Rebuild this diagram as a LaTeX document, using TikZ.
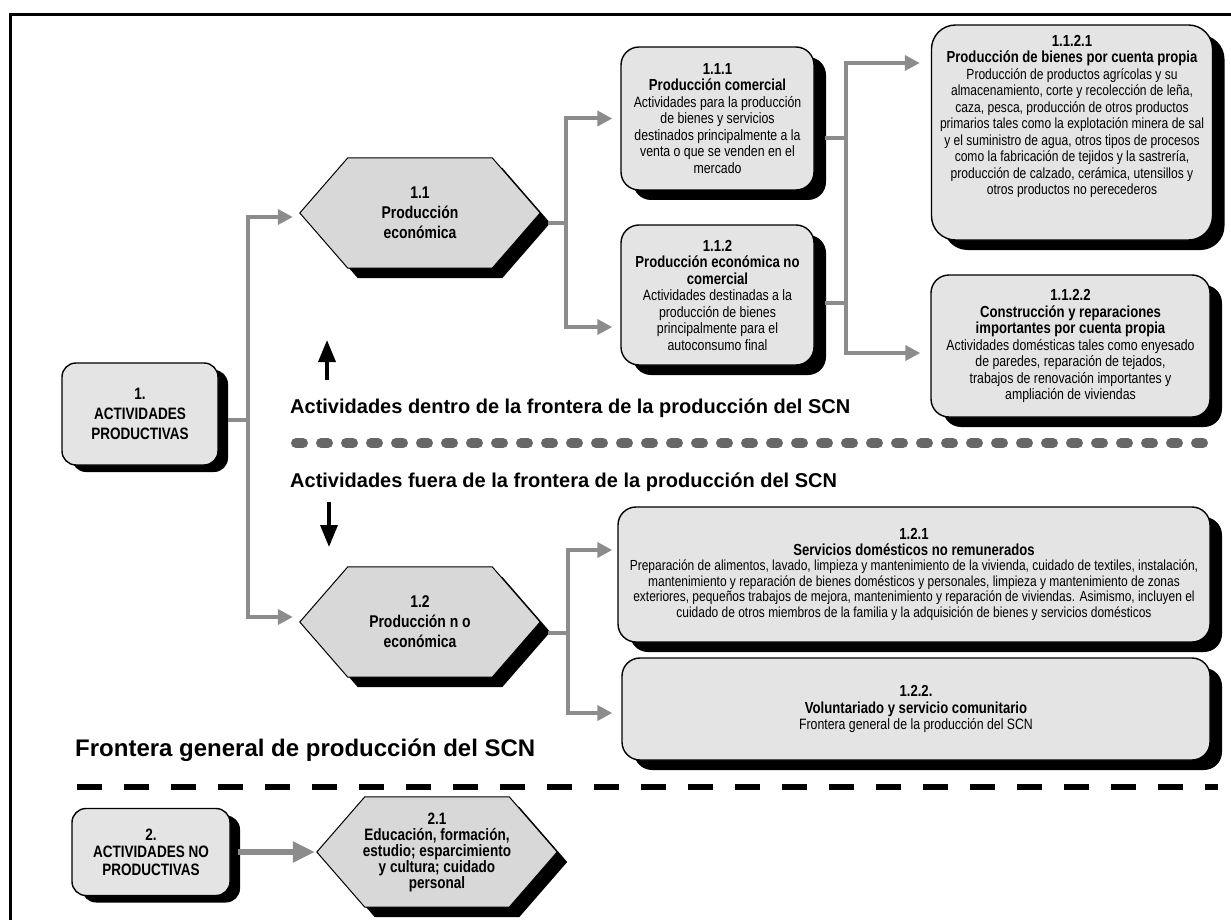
\documentclass[tikz,border=0pt]{standalone}
\usepackage{fontspec}
\setmainfont{Liberation Sans}
\newfontfamily\narrowfont{Liberation Sans}[FakeStretch=0.82]
\usetikzlibrary{arrows.meta,shadows,backgrounds}

\definecolor{boxgray}{HTML}{E4E4E4}
\definecolor{hexgray}{HTML}{D8D8D8}
\definecolor{linkgray}{HTML}{8C8C8C}
\definecolor{dotgray}{HTML}{676767}

\newcommand{\hd}[1]{{\bfseries\fontsize{16}{17}\selectfont #1}}
% outline of a hexagon round node #1, shifted by (#2,#3)
\newcommand{\hexpath}[3]{([shift={(#2,#3)}]#1.west) -- ([shift={(48+#2,#3)}]#1.north west) -- ([shift={(-48+#2,#3)}]#1.north east) -- ([shift={(#2,#3)}]#1.east) -- ([shift={(-48+#2,#3)}]#1.south east) -- ([shift={(48+#2,#3)}]#1.south west) -- cycle}

\begin{document}
\begin{tikzpicture}[x=1pt,y=-1pt]
        \tikzstyle{boxbase}=[draw, line width=1.4pt, fill=boxgray, rounded corners=18pt, align=center, inner sep=0pt]
        \tikzstyle{box}=[boxbase, drop shadow={shadow xshift=12pt, shadow yshift=-10pt, opacity=1, fill=black},
            font=\narrowfont\fontsize{15}{16.5}\selectfont]
        \tikzstyle{actbox}=[boxbase, rounded corners=14pt, drop shadow={shadow xshift=10pt, shadow yshift=-7pt, opacity=1, fill=black},
            font=\narrowfont\bfseries\fontsize{16.5}{20}\selectfont]
        \tikzstyle{hexnode}=[minimum width=240pt, minimum height=110pt, inner sep=0pt, align=center,
            font=\narrowfont\bfseries\fontsize{17}{20}\selectfont]
        \tikzstyle{link}=[draw=linkgray, line width=4pt, line cap=rect]
        \tikzstyle{linkarrow}=[link, -{Triangle[length=15pt,width=15pt]}]
        \tikzstyle{bigarrow}=[line width=3.5pt, -{Triangle[length=22pt,width=17pt]}]
        \tikzstyle{heading}=[anchor=west, inner sep=0pt, font=\bfseries\fontsize{20}{24}\selectfont]

        \useasboundingbox (0,0) rectangle (1231,920);
        \draw[line width=3pt] (10,930) -- (10,15) -- (1240,15);

        % activities
        \node (act1) [actbox, minimum width=156pt, minimum height=102pt] at (140,414) {1.\\ACTIVIDADES\\PRODUCTIVAS};
        \node (act2) [actbox, minimum width=158pt, minimum height=87pt, font=\narrowfont\bfseries\fontsize{16.5}{17.5}\selectfont] at (151,852) {2.\\ACTIVIDADES NO\\PRODUCTIVAS};

        % hexagons
        \node (h11) [hexnode] at (420,213) {1.1\\Producción\\económica};
        \node (h12) [hexnode] at (420,622) {1.2\\Producción n o\\económica};
        \node (h21) [hexnode, font=\narrowfont\bfseries\fontsize{16.5}{16}\selectfont] at (437,852) {2.1\\Educación, formación,\\estudio; esparcimiento\\y cultura; cuidado\\personal};
        \begin{scope}[on background layer]
            \foreach \h in {h11,h12,h21} {
                \fill[black] \hexpath{\h}{10}{10};
                \filldraw[fill=hexgray, draw=black, line width=1pt] \hexpath{\h}{0}{0};
            }
        \end{scope}

        % boxes
        \node (b111) [box, minimum width=193pt, minimum height=143pt] at (717.5,118.5) {\hd{1.1.1}\\\hd{Producción comercial}\\Actividades para la producción\\de bienes y servicios\\destinados principalmente a la\\venta o que se venden en el\\mercado};
        \node (b112) [box, minimum width=193pt, minimum height=140pt] at (717.5,295) {\hd{1.1.2}\\\hd{Producción económica no}\\\hd{comercial}\\Actividades destinadas a la\\producción de bienes\\principalmente para el\\autoconsumo final};
        \node (b1121) [box, minimum width=281pt, minimum height=215pt, rounded corners=24pt, font=\narrowfont\fontsize{14.7}{16.5}\selectfont] at (1072,132.5) {\hd{1.1.2.1}\\\hd{Producción de bienes por cuenta propia}\\Producción de productos agrícolas y su\\almacenamiento, corte y recolección de leña,\\caza, pesca, producción de otros productos\\primarios tales como la explotación minera de sal\\y el suministro de agua, otros tipos de procesos\\como la fabricación de tejidos y la sastrería,\\producción de calzado, cerámica, utensillos y\\otros productos no perecederos\\[14pt]\strut};
        \node (b1122) [box, minimum width=279pt, minimum height=142pt] at (1070.5,346) {\hd{1.1.2.2}\\\hd{Construcción y reparaciones}\\\hd{importantes por cuenta propia}\\Actividades domésticas tales como enyesado\\de paredes, reparación de tejados,\\trabajos de renovación importantes y\\ampliación de viviendas};
        \node (b121) [box, minimum width=592pt, minimum height=135pt, font=\narrowfont\fontsize{14.6}{15.5}\selectfont] at (914,574.5) {\hd{1.2.1}\\\hd{Servicios domésticos no remunerados}\\Preparación de alimentos, lavado, limpieza y mantenimiento de la vivienda, cuidado de textiles, instalación,\\mantenimiento y reparación de bienes domésticos y personales, limpieza y mantenimiento de zonas\\exteriores, pequeños trabajos de mejora, mantenimiento y reparación de viviendas. Asimismo, incluyen el\\cuidado de otros miembros de la familia y la adquisición de bienes y servicios domésticos};
        \node (b122) [box, minimum width=588pt, minimum height=102pt] at (916,709) {\hd{1.2.2.}\\\hd{Voluntariado y servicio comunitario}\\Frontera general de la producción del SCN};

        % connectors
        \coordinate (j1) at (248,420);
        \draw[link] ([xshift=11pt,yshift=-6pt]act1.east) -- (j1);
        \draw[linkarrow, shorten >=7pt] (j1) |- ([yshift=-4pt]h11.west);
        \draw[linkarrow, shorten >=7pt] (j1) |- ([yshift=5pt]h12.west);

        \coordinate (j2) at (566,223);
        \draw[link] ([xshift=10pt,yshift=-10pt]h11.east) -- (j2);
        \draw[linkarrow, shorten >=8pt] (j2) |- (b111.west);
        \draw[linkarrow, shorten >=8pt] (j2) |- ([yshift=-32pt]b112.west);

        \coordinate (j3) at (846,63);
        \coordinate (j4) at (846,353);
        \coordinate (o111) at ([xshift=12pt,yshift=-20pt]b111.east);
        \coordinate (o112) at ([xshift=12pt,yshift=-8pt]b112.east);
        \draw[link] (j3) -- (j4);
        \draw[link] (o111) -- (o111 -| j3);
        \draw[link] (o112) -- (o112 -| j3);
        \draw[linkarrow, shorten >=11pt] (j3) -- (j3 -| b1121.west);
        \draw[linkarrow, shorten >=10pt] (j4) -- (j4 -| b1122.west);

        \coordinate (j5) at (568,633);
        \draw[link] ([xshift=10pt,yshift=-11pt]h12.east) -- (j5);
        \draw[linkarrow, shorten >=5pt] (j5) |- ([yshift=24.5pt]b121.west);
        \draw[linkarrow, shorten >=9pt] (j5) |- ([yshift=-4pt]b122.west);

        \draw[linkarrow, line width=6pt, -{Triangle[length=22pt,width=20pt]}, shorten >=2pt] ([xshift=10pt]act2.east) -- (h21.west);

        % frontier marks
        \coordinate (upfrom) at (327,380);
        \coordinate (upto) at (327,340);
        \draw[bigarrow] (upfrom) -- (upto);
        \coordinate (downfrom) at (329,502);
        \coordinate (downto) at (329,547);
        \draw[bigarrow] (downfrom) -- (downto);

        \node (inside) [heading] at (290,408) {Actividades dentro de la frontera de la producción del SCN};
        \node (outside) [heading] at (290,482) {Actividades fuera de la frontera de la producción del SCN};
        \node (general) [heading, font=\bfseries\fontsize{24}{28}\selectfont] at (75,750) {Frontera general de producción del SCN};

        \coordinate (dotstart) at (296,443);
        \coordinate (dotend) at (1212,443);
        \draw[dotgray, line width=10pt, line cap=round, dash pattern=on 7pt off 18pt] (dotstart) -- (dotend);
        \coordinate (dashstart) at (77,787);
        \coordinate (dashend) at (1218,787);
        \draw[line width=6pt, dash pattern=on 25pt off 22pt] (dashstart) -- (dashend);
\end{tikzpicture}
\end{document}
